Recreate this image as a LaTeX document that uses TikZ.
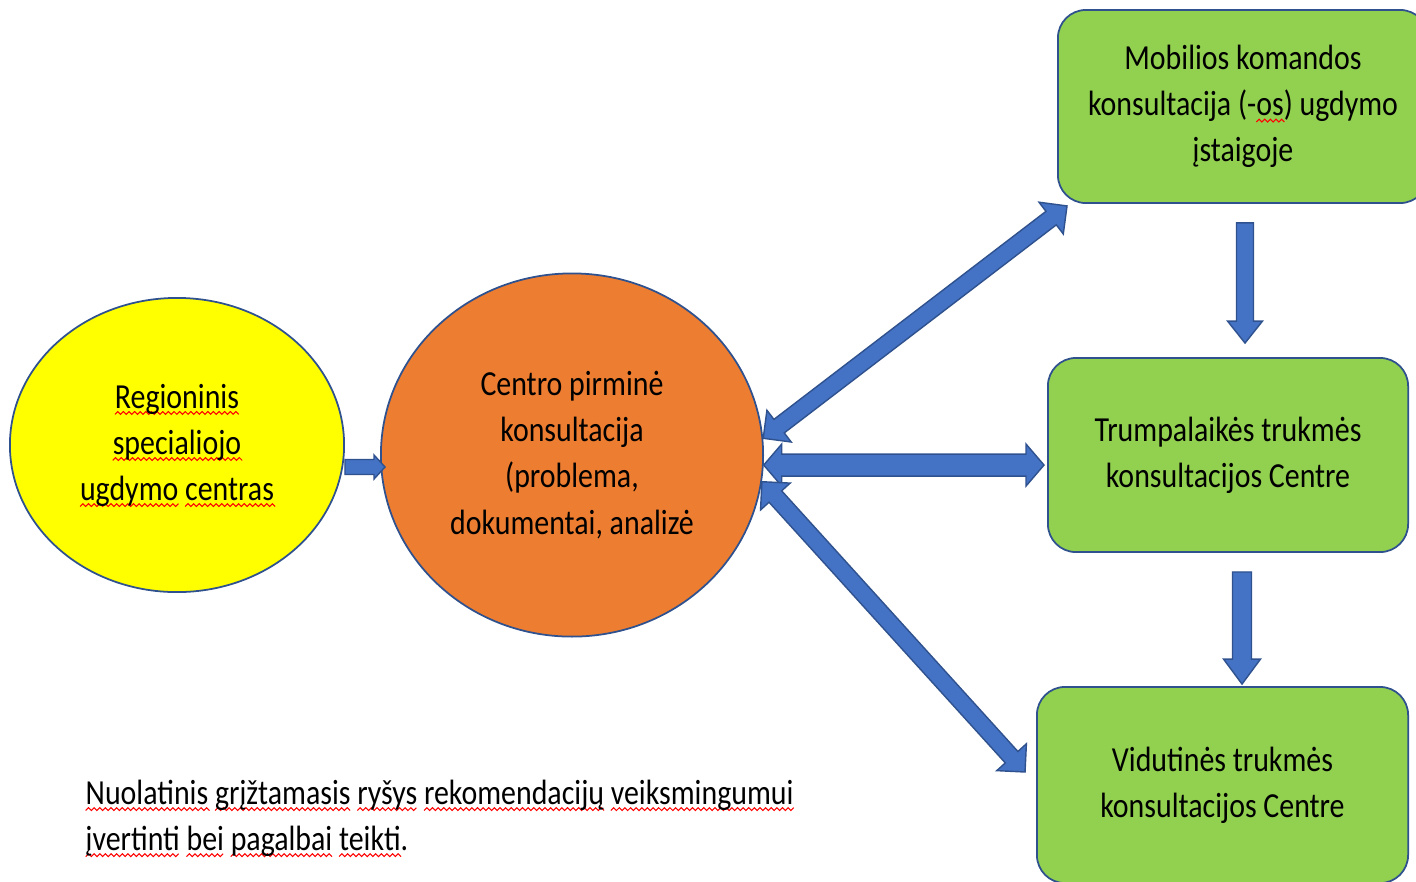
\documentclass[tikz,border=0pt]{standalone}
\usepackage{fontspec}
\setmainfont{Carlito}[FakeStretch=0.85]
\usetikzlibrary{shapes.geometric,calc}

\definecolor{yel}{HTML}{FFFF00}
\definecolor{org}{HTML}{ED7D31}
\definecolor{grn}{HTML}{92D050}
\definecolor{arrblue}{HTML}{4472C4}
\definecolor{edgeblue}{HTML}{2F528F}

% red wavy underline (spell-check marks)
\newlength{\sqlen}
\newcommand{\sq}[1]{\settowidth{\sqlen}{#1}\edef\sqn{\the\numexpr\sqlen/52429\relax}%
  \rlap{\tikz[overlay, baseline=0pt, x=1pt, y=1pt, sharp corners]
  \draw[red, line width=0.3pt] (0,-1.8) \foreach \k in {1,...,\sqn} { -- ({\k*0.8}, {mod(\k,2)*0.8-1.8}) };}#1}

\tikzset{
  oval/.style={ellipse, draw=edgeblue, line width=0.5pt, inner sep=0pt, align=center},
  greenbox/.style={rectangle, rounded corners=0.28cm, draw=edgeblue, line width=0.5pt,
    fill=grn, inner sep=0pt, align=center},
  arrowbody/.style={fill=arrblue, draw=edgeblue, line width=0.4pt, line join=miter},
}

% block arrow with one head: from, to, half shaft, half head, head length
\newcommand{\onearrow}[5]{%
  \coordinate (hb) at ($(#2)!#5!(#1)$);
  \path[arrowbody] ($(#1)!#3!90:(#2)$) -- ($(hb)!#3!-90:(#1)$) -- ($(hb)!#4!-90:(#1)$) -- (#2)
    -- ($(hb)!#4!90:(#1)$) -- ($(hb)!#3!90:(#1)$) -- ($(#1)!#3!-90:(#2)$) -- cycle;
}
% block arrow with two heads
\newcommand{\twoarrow}[5]{%
  \coordinate (ha) at ($(#1)!#5!(#2)$);
  \coordinate (hb) at ($(#2)!#5!(#1)$);
  \path[arrowbody] (#1) -- ($(ha)!#4!90:(#2)$) -- ($(ha)!#3!90:(#2)$) -- ($(hb)!#3!-90:(#1)$)
    -- ($(hb)!#4!-90:(#1)$) -- (#2) -- ($(hb)!#4!90:(#1)$) -- ($(hb)!#3!90:(#1)$)
    -- ($(ha)!#3!-90:(#2)$) -- ($(ha)!#4!-90:(#2)$) -- cycle;
}

\begin{document}
\begin{tikzpicture}[x=0.01cm, y=-0.01cm, font=\fontsize{10}{13.1}\selectfont] % pixel grid, y down
  \useasboundingbox (0,0) rectangle (1416,881);
  \clip (0,0) rectangle (1416,881);

  % the two ovals
  \node (reg) [oval, fill=yel, minimum width=3.34cm, minimum height=2.94cm] at (177,445)
    {\sq{Regioninis}\\ \sq{specialiojo}\\ \sq{ugdymo} \sq{centras}};
  \node (cpk) [oval, fill=org, minimum width=3.82cm, minimum height=3.63cm] at (572,455)
    {Centro pirminė\\ konsultacija\\ (problema,\\ dokumentai, analizė};

  % the three green boxes
  \node (mob) [greenbox, minimum width=3.70cm, minimum height=1.93cm] at (1243,106.5)
    {Mobilios komandos\\ konsultacija (-\sq{os}) ugdymo\\ įstaigoje};
  \node (trump) [greenbox, minimum width=3.60cm, minimum height=1.94cm] at (1228,455)
    {Trumpalaikės trukmės\\ konsultacijos Centre};
  \node (vid) [greenbox, minimum width=3.71cm, minimum height=1.96cm] at (1222.5,785)
    {Vidutinės trukmės\\ konsultacijos Centre};

  % feedback note
  \node (fb) [anchor=west, align=left, inner sep=0pt] at (85,818)
    {\sq{Nuolatinis} \sq{grįžtamasis} \sq{ryšys} \sq{rekomendacijų} \sq{veiksmingumui}\\
     \sq{įvertinti} \sq{bei} \sq{pagalbai} \sq{teikti}.};

  % arrow end points
  \coordinate (r1) at ($(reg.east)+(0,22)$);
  \coordinate (r2) at ($(cpk.west)+(5,12)$);
  \coordinate (d1a) at (cpk.5);
  \coordinate (d1b) at ($(mob.south west)+(10,2)$);
  \coordinate (d2a) at (cpk.-3);
  \coordinate (d2b) at ($(trump.west |- d2a)+(-3,0)$);
  \coordinate (d3a) at (cpk.-8);
  \coordinate (d3b) at ($(vid.west)+(-11,-13)$);
  \coordinate (v1a) at ($(mob.south)+(2,19)$);
  \coordinate (v1b) at ($(v1a |- trump.north)+(0,-14)$);
  \coordinate (v2a) at ($(trump.south)+(14,19)$);
  \coordinate (v2b) at ($(v2a |- vid.north)+(0,-2)$);

  % block arrows
  \onearrow{r1}{r2}{0.075cm}{0.12cm}{0.11cm}
  \twoarrow{d1a}{d1b}{0.085cm}{0.2cm}{0.2cm}
  \twoarrow{d2a}{d2b}{0.11cm}{0.21cm}{0.18cm}
  \twoarrow{d3a}{d3b}{0.085cm}{0.2cm}{0.2cm}
  \onearrow{v1a}{v1b}{0.085cm}{0.175cm}{0.22cm}
  \onearrow{v2a}{v2b}{0.095cm}{0.185cm}{0.25cm}
\end{tikzpicture}
\end{document}
